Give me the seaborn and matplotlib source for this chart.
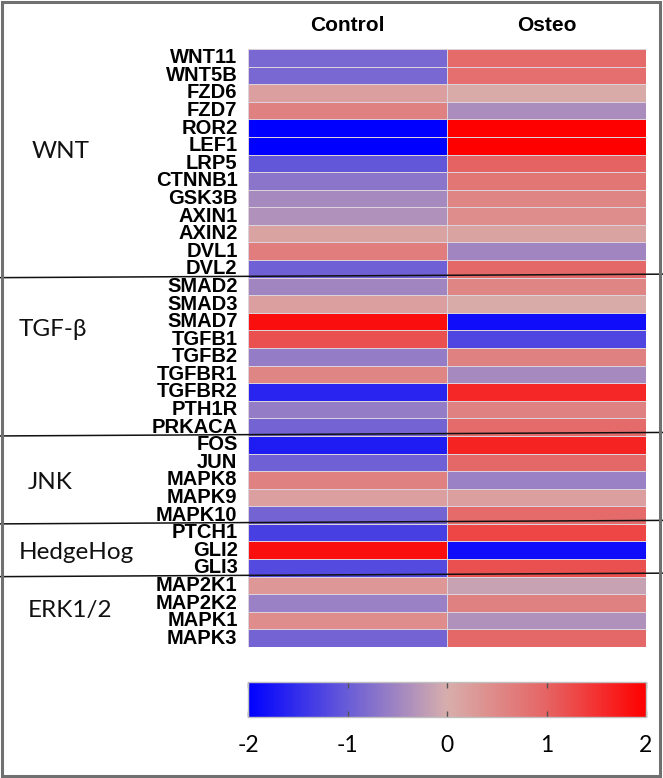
import numpy as np
import pandas as pd
import seaborn as sns
import matplotlib
matplotlib.use("Agg")
import matplotlib.pyplot as plt
from matplotlib.colors import LinearSegmentedColormap
from matplotlib.lines import Line2D
from matplotlib.patches import Rectangle

genes = ["WNT11", "WNT5B", "FZD6", "FZD7", "ROR2", "LEF1", "LRP5", "CTNNB1",
         "GSK3B", "AXIN1", "AXIN2", "DVL1", "DVL2",
         "SMAD2", "SMAD3", "SMAD7", "TGFB1", "TGFB2", "TGFBR1", "TGFBR2",
         "PTH1R", "PRKACA",
         "FOS", "JUN", "MAPK8", "MAPK9", "MAPK10",
         "PTCH1", "GLI2", "GLI3",
         "MAP2K1", "MAP2K2", "MAPK1", "MAPK3"]
control = [-0.85, -0.85, 0.2, 0.6, -2.0, -2.0, -1.05, -0.7,
           -0.45, -0.35, 0.15, 0.65, -0.95,
           -0.5, 0.2, 1.85, 1.2, -0.6, 0.55, -1.6,
           -0.6, -0.9,
           -1.7, -0.95, 0.6, 0.2, -0.9,
           -1.3, 1.85, -1.2,
           0.3, -0.55, 0.45, -0.9]
osteo = [0.9, 0.85, 0.05, -0.4, 2.0, 2.0, 1.0, 0.75,
         0.55, 0.45, 0.15, -0.5, 0.95,
         0.55, 0.05, -1.85, -1.25, 0.6, -0.45, 1.6,
         0.6, 0.9,
         1.65, 0.95, -0.55, 0.2, 0.9,
         1.3, -1.85, 1.2,
         -0.15, 0.6, -0.35, 0.95]
conditions = ["Control", "Osteo"]
group_names = ["WNT", "TGF-\u03b2", "JNK", "HedgeHog", "ERK1/2"]
group_sizes = [13, 9, 5, 3, 4]
cbar_ticks = [-2, -1, 0, 1, 2]

df = pd.DataFrame({"Control": control, "Osteo": osteo}, index=genes)[conditions]

cmap = LinearSegmentedColormap.from_list(
    "bgr",
    [(0.0, (0/255, 0/255, 255/255)),
     (0.25, (105/255, 92/255, 215/255)),
     (0.5, (215/255, 174/255, 172/255)),
     (0.75, (230/255, 100/255, 100/255)),
     (1.0, (255/255, 0/255, 0/255))])

W, H = 663, 778
fig = plt.figure(figsize=(W / 100, H / 100), dpi=100)
fig.patch.set_facecolor("white")

hx0, hx1, hy0, hy1 = 248, 646, 49, 647
ax = fig.add_axes([hx0 / W, 1 - hy1 / H, (hx1 - hx0) / W, (hy1 - hy0) / H])
cx0, cx1, cy0, cy1 = 248, 646, 682, 717
cax = fig.add_axes([cx0 / W, 1 - cy1 / H, (cx1 - cx0) / W, (cy1 - cy0) / H])

sns.heatmap(df, ax=ax, cmap=cmap, vmin=-2, vmax=2, cbar_ax=cax,
            cbar_kws={"orientation": "horizontal", "ticks": cbar_ticks},
            linewidths=0.7, linecolor="#dcd2dc")

ax.xaxis.tick_top()
ax.set_xlabel("")
ax.set_ylabel("")
ax.set_xticklabels(conditions, fontfamily="Liberation Sans", fontweight="bold",
                   fontsize=15, rotation=0)
ax.set_yticklabels(genes, fontfamily="Liberation Sans", fontweight="bold",
                   fontsize=14.5, rotation=0)
ax.tick_params(axis="x", length=0, pad=10)
ax.tick_params(axis="y", length=0, pad=7.5)
for lab in ax.get_yticklabels():
    lab.set_va("center")

# colorbar styling
cbar = ax.collections[0].colorbar
cbar.outline.set_edgecolor("#c0c0c0")
cbar.outline.set_linewidth(1.0)
cax.tick_params(axis="x", direction="in", length=4, width=1, color="#555555",
                top=True, bottom=True, pad=13, labelsize=16)
cax.set_xticklabels([str(t) for t in cbar_ticks], fontfamily="Lato", fontsize=16.5)

# group labels and separator lines
group_label_x = [32, 19, 28, 19, 28]
group_label_rowpos = [5.85, 15.95, 24.65, 28.6, 31.9]
fig.canvas.draw()
inv = fig.transFigure.inverted()
start = 0
for i, (name, size) in enumerate(zip(group_names, group_sizes)):
    _, yd = ax.transData.transform((0, group_label_rowpos[i]))
    fx, fy = inv.transform((0, yd))
    fig.text(group_label_x[i] / W, fy, name, fontfamily="Lato", fontsize=17.5,
             ha="left", va="center", color="#111111")
    start += size
    if i < len(group_names) - 1:
        _, yb = ax.transData.transform((0, start))
        _, fy_left = inv.transform((0, yb))
        _, fy_right = inv.transform((0, yb + 3.5))
        fig.add_artist(Line2D([0, 1], [fy_left, fy_right], transform=fig.transFigure,
                              color="#111111", lw=1.1, zorder=5))

fig.add_artist(Rectangle((2 / W, 2 / H), (660 - 2) / W, (776 - 2) / H,
                         transform=fig.transFigure, fill=False,
                         edgecolor="#707070", lw=2.2, zorder=10))

fig.savefig("out.png", dpi=100, facecolor="white")
